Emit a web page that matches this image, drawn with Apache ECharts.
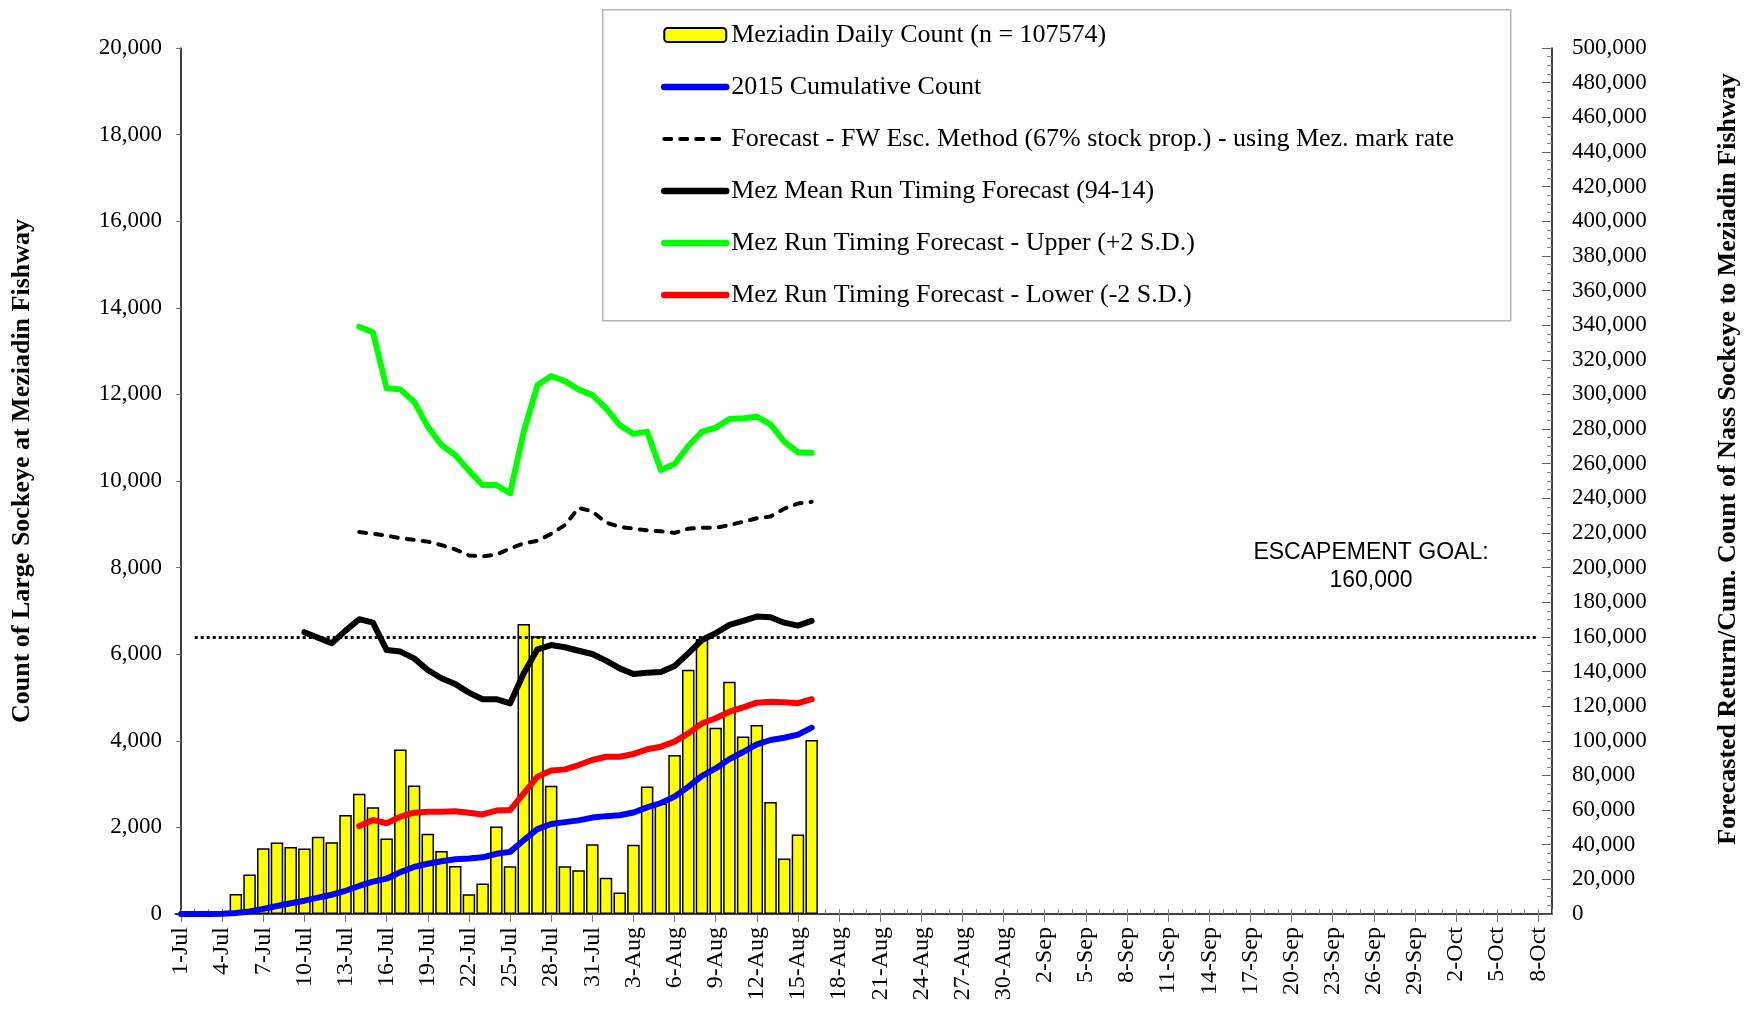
<!DOCTYPE html>
<html lang="en">
<head>
    <meta charset="UTF-8">
    <title>Meziadin Sockeye 2015</title>
    <script src="https://cdn.jsdelivr.net/npm/echarts@6/dist/echarts.min.js"></script>
    <style>
        html, body { margin: 0; padding: 0; background: #fff; }
        #chart { width: 1754px; height: 1011px; }
    </style>
</head>
<body>
    <div id="chart"></div>
    <script>
        // x categories: 1-Jul .. 9-Oct, labels shown every 3 days
        const months = ['Jan','Feb','Mar','Apr','May','Jun','Jul','Aug','Sep','Oct','Nov','Dec'];
        const days = [];
        for (let d = new Date(2015, 6, 1); d <= new Date(2015, 9, 9); d.setDate(d.getDate() + 1)) {
            days.push(d.getDate() + '-' + months[d.getMonth()]);
        }

        // daily counts at the fishway, 1-Jul .. 16-Aug
        const dailyCount = [0, 10, 30, 40, 460, 915, 1519, 1651, 1550, 1511,
            1783, 1659, 2286, 2775, 2465, 1744, 3800, 2968, 1852, 1457,
            1108, 457, 705, 2023, 1100, 6700, 6417, 2960, 1100, 1008,
            1612, 837, 496, 1597, 2945, 2550, 3674, 5640, 6350, 4301,
            5363, 4100, 4363, 2589, 1279, 1837, 4020];

        // 2015 cumulative count, 1-Jul .. 16-Aug
        const cumulative = [0, 10, 40, 80, 540, 1455, 2974, 4625, 6175, 7686,
            9469, 11128, 13414, 16189, 18654, 20398, 24198, 27166, 29018, 30475,
            31583, 32040, 32745, 34768, 35868, 42568, 48985, 51945, 53045, 54053,
            55665, 56502, 56998, 58595, 61540, 64090, 67764, 73404, 79754, 84055,
            89418, 93518, 97881, 100470, 101749, 103586, 107606];

        // FW escapement method forecast, from 14-Jul
        const fwStart = '14-Jul';
        const fwForecast = [220500, 219500, 218500, 217000, 216000, 215000, 213000, 210500, 207000, 206500,
            207500, 211000, 214000, 215500, 219500, 224500, 234500, 232500, 226000, 223500,
            222500, 221500, 221000, 220000, 222500, 223000, 223000, 224500, 226500, 228500,
            229500, 234000, 237000, 238000];

        // mean run timing forecast, from 10-Jul
        const meanStart = '10-Jul';
        const meanForecast = [162700, 159500, 156300, 163600, 170200, 168200, 152400, 151500, 147600, 140900,
            136100, 132800, 127800, 124000, 124000, 121600, 139000, 152800, 155300, 154000,
            152000, 150100, 146300, 141800, 138600, 139300, 139700, 143200, 150500, 158200,
            162100, 166900, 169200, 171700, 171300, 168200, 166500, 169200];

        // upper (+2 SD) run timing forecast, from 14-Jul
        const upperStart = '14-Jul';
        const upperForecast = [339100, 335900, 303500, 302900, 295800, 281400, 270800, 265000, 256000, 247700,
            247700, 242900, 278500, 305400, 310600, 307700, 302900, 299700, 292000, 282400,
            277200, 278500, 256400, 259800, 270200, 278500, 280800, 285800, 286200, 287100,
            282700, 272700, 266600, 266300];

        // lower (-2 SD) run timing forecast, from 14-Jul
        const lowerStart = '14-Jul';
        const lowerForecast = [50800, 54300, 52400, 56200, 58500, 59100, 59100, 59300, 58500, 57500,
            59700, 60000, 69700, 79300, 82800, 83500, 86000, 88900, 90800, 90800,
            92400, 95100, 96600, 99500, 104300, 110100, 113000, 116800, 119300, 122000,
            122600, 122200, 121700, 124000];

        const GOAL = 160000;
        const goalFrom = '2-Jul';
        const goalTo = '8-Oct';

        const names = {
            daily: 'Meziadin Daily Count (n = 107574)',
            cum: '2015 Cumulative Count',
            fw: 'Forecast - FW Esc. Method (67% stock prop.) - using Mez. mark rate',
            mean: 'Mez Mean Run Timing Forecast (94-14)',
            upper: 'Mez Run Timing Forecast - Upper (+2 S.D.)',
            lower: 'Mez Run Timing Forecast - Lower (-2 S.D.)'
        };

        function fromDay(start, values) {
            const i0 = days.indexOf(start);
            return values.map((v, i) => [days[i0 + i], v]);
        }

        const serif = 'Liberation Serif';
        const chart = echarts.init(document.getElementById('chart'));

        const lineBase = {
            type: 'line',
            yAxisIndex: 1,
            symbol: 'none',
            smooth: false,
            animation: false,
            z: 3
        };
        // legend entries for lines: no symbol, just the thick line
        const lineLegend = (name, width) => ({
            name: name,
            itemStyle: { opacity: 0 },
            lineStyle: { width: width, cap: 'round' }
        });

        chart.setOption({
            animation: false,
            grid: { left: 181, right: 202, top: 48, bottom: 97, containLabel: false },
            legend: {
                orient: 'vertical',
                left: 661,
                top: 21,
                itemWidth: 62,
                itemHeight: 14,
                itemGap: 24,
                padding: 0,
                textStyle: { fontFamily: serif, fontSize: 26, color: '#000', lineHeight: 28 },
                data: [
                    names.daily,
                    lineLegend(names.cum, 6.5),
                    lineLegend(names.fw, 4),
                    lineLegend(names.mean, 6.5),
                    lineLegend(names.upper, 6.5),
                    lineLegend(names.lower, 6.5)
                ]
            },
            graphic: [
                {
                    type: 'rect', left: 602, top: 9, z: 0, silent: true,
                    shape: { width: 908, height: 311 },
                    style: { fill: '#fff', stroke: '#b5b5b5', lineWidth: 1.5 }
                },
                {
                    type: 'text', x: 1371, y: 553, silent: true,
                    style: { text: 'ESCAPEMENT GOAL:', font: '23px "Liberation Sans"', fill: '#000', textAlign: 'center', textVerticalAlign: 'middle' }
                },
                {
                    type: 'text', x: 1371, y: 581, silent: true,
                    style: { text: '160,000', font: '23px "Liberation Sans"', fill: '#000', textAlign: 'center', textVerticalAlign: 'middle' }
                },
                {
                    type: 'text', x: 22, y: 471, rotation: Math.PI / 2, silent: true,
                    style: { text: 'Count of Large Sockeye at Meziadin Fishway', font: 'bold 26px "Liberation Serif"', fill: '#000', textAlign: 'center', textVerticalAlign: 'middle' }
                },
                {
                    type: 'text', x: 1728, y: 459, rotation: Math.PI / 2, silent: true,
                    style: { text: 'Forecasted Return/Cum. Count of Nass Sockeye to Meziadin Fishway', font: 'bold 26px "Liberation Serif"', fill: '#000', textAlign: 'center', textVerticalAlign: 'middle' }
                }
            ],
            xAxis: [
                {
                    type: 'category',
                    data: days,
                    boundaryGap: false,
                    axisLine: { lineStyle: { color: '#000', width: 1.5 } },
                    axisTick: { interval: 2, length: 8, lineStyle: { color: '#777' } },
                    axisLabel: { interval: 2, rotate: 90, margin: 13, fontFamily: serif, fontSize: 24, color: '#000' },
                    splitLine: { show: false }
                },
                {
                    type: 'category',
                    data: days,
                    position: 'bottom',
                    boundaryGap: false,
                    axisLine: { show: false },
                    axisTick: { interval: 0, inside: true, length: 5, lineStyle: { color: '#888' } },
                    axisLabel: { show: false },
                    splitLine: { show: false }
                }
            ],
            yAxis: [
                {
                    type: 'value',
                    min: 0, max: 20000, interval: 2000,
                    axisLine: { show: true, lineStyle: { color: '#000', width: 1.5 } },
                    axisTick: { show: true, length: 5, lineStyle: { color: '#777' } },
                    axisLabel: { margin: 19, fontFamily: serif, fontSize: 23, color: '#000',
                        formatter: v => v.toLocaleString('en-US') },
                    splitLine: { show: false }
                },
                {
                    type: 'value',
                    position: 'right',
                    min: 0, max: 500000, interval: 20000,
                    axisLine: { show: true, lineStyle: { color: '#000', width: 1.5 } },
                    axisTick: { show: true, inside: true, length: 10, lineStyle: { color: '#666' } },
                    minorTick: { show: true, splitNumber: 4, length: 5, lineStyle: { color: '#888' } },
                    axisLabel: { margin: 20, fontFamily: serif, fontSize: 23, color: '#000',
                        formatter: v => v.toLocaleString('en-US') },
                    splitLine: { show: false }
                }
            ],
            series: [
                {
                    name: names.daily,
                    type: 'bar',
                    yAxisIndex: 0,
                    data: dailyCount,
                    barWidth: 12.5,
                    itemStyle: { color: '#ffff00', borderColor: '#000', borderWidth: 1.5 },
                    z: 2
                },
                Object.assign({}, lineBase, {
                    name: names.cum,
                    data: fromDay('1-Jul', cumulative),
                    lineStyle: { color: '#0000ff', width: 6, cap: 'round', join: 'round' },
                    itemStyle: { color: '#0000ff' },
                    markLine: {
                        silent: true,
                        symbol: 'none',
                        label: { show: false },
                        lineStyle: { color: '#000', width: 3, type: [3, 3] },
                        data: [[{ coord: [goalFrom, GOAL] }, { coord: [goalTo, GOAL] }]]
                    }
                }),
                Object.assign({}, lineBase, {
                    name: names.fw,
                    data: fromDay(fwStart, fwForecast),
                    lineStyle: { color: '#000', width: 4, type: [7, 9], cap: 'round', join: 'round' },
                    itemStyle: { color: '#000' }
                }),
                Object.assign({}, lineBase, {
                    name: names.mean,
                    data: fromDay(meanStart, meanForecast),
                    lineStyle: { color: '#000', width: 6, cap: 'round', join: 'round' },
                    itemStyle: { color: '#000' }
                }),
                Object.assign({}, lineBase, {
                    name: names.upper,
                    data: fromDay(upperStart, upperForecast),
                    lineStyle: { color: '#00ff00', width: 6, cap: 'round', join: 'round' },
                    itemStyle: { color: '#00ff00' }
                }),
                Object.assign({}, lineBase, {
                    name: names.lower,
                    data: fromDay(lowerStart, lowerForecast),
                    lineStyle: { color: '#ff0000', width: 6, cap: 'round', join: 'round' },
                    itemStyle: { color: '#ff0000' }
                })
            ]
        });
    </script>
</body>
</html>
